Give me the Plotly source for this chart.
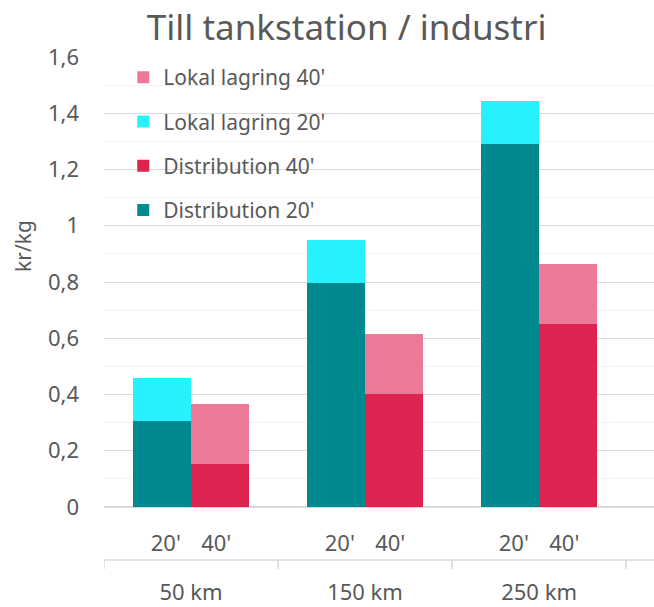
import plotly.graph_objects as go

groups = ["50 km", "150 km", "250 km"]
sizes = ["20'", "40'"]
dist_20 = [0.305, 0.796, 1.291]
lokal_20 = [0.152, 0.153, 0.153]
dist_40 = [0.153, 0.402, 0.650]
lokal_40 = [0.213, 0.213, 0.213]

c_d20 = "#008A90"
c_l20 = "#27F0FF"
c_d40 = "#DE2350"
c_l40 = "#EC7A96"

font_family = "Noto Sans, Open Sans, sans-serif"
grey = "#595959"
line_grey = "#D9D9D9"

x20 = [groups, [sizes[0]] * len(groups)]
x40 = [groups, [sizes[1]] * len(groups)]

fig = go.Figure()
w = 0.667
fig.add_trace(go.Bar(x=x20, y=dist_20, name="Distribution 20'", marker_color=c_d20,
                     width=w, offset=-0.167, legendgroup="a", legendrank=4, marker_line_width=0))
fig.add_trace(go.Bar(x=x40, y=dist_40, name="Distribution 40'", marker_color=c_d40,
                     width=w, offset=-0.5, legendgroup="b", legendrank=3, marker_line_width=0))
fig.add_trace(go.Bar(x=x20, y=lokal_20, name="Lokal lagring 20'", marker_color=c_l20,
                     width=w, offset=-0.167, legendgroup="c", legendrank=2, marker_line_width=0))
fig.add_trace(go.Bar(x=x40, y=lokal_40, name="Lokal lagring 40'", marker_color=c_l40,
                     width=w, offset=-0.5, legendgroup="d", legendrank=1, marker_line_width=0))

n_g = len(groups)
n_s = len(sizes)
n_cat = n_g * n_s
x_range = [-0.5, n_cat - 0.5 + 28 / 87.2]

# label positions derived from category indices
group_centers = [g * n_s + (n_s - 1) / 2 for g in range(n_g)]
sub_vals = []
sub_text = []
for gc in group_centers:
    sub_vals += [gc - 0.29, gc + 0.29]
    sub_text += sizes

# empty helper traces so the label axes are drawn
fig.add_trace(go.Scatter(x=[], y=[], xaxis="x2", showlegend=False, hoverinfo="skip"))
fig.add_trace(go.Scatter(x=[], y=[], xaxis="x3", showlegend=False, hoverinfo="skip"))

fig.update_layout(
    width=654, height=607,
    barmode="stack",
    separators=", ",
    paper_bgcolor="white", plot_bgcolor="white",
    margin=dict(l=104, r=0, t=57, b=100),
    font=dict(family=font_family, color=grey, size=21),
    title=dict(text="Till tankstation / industri", x=0.53, xanchor="center",
               y=0.955, yanchor="middle", font=dict(size=35, color=grey)),
    legend=dict(x=0.035, y=1.0, xanchor="left", yanchor="top",
                traceorder="grouped", tracegroupgap=14,
                font=dict(size=21, color=grey), bgcolor="rgba(0,0,0,0)",
                itemwidth=30),
    showlegend=True,
    xaxis2=dict(overlaying="x", anchor="free", position=0, side="bottom",
                range=x_range, tickmode="array", tickvals=sub_vals, ticktext=sub_text,
                showgrid=False, zeroline=False, showline=False, ticks="",
                tickfont=dict(size=22, color=grey), ticklabelstandoff=21,
                automargin=False),
    xaxis3=dict(overlaying="x", anchor="free", position=0, side="bottom",
                range=x_range, tickmode="array", tickvals=group_centers, ticktext=groups,
                showgrid=False, zeroline=False, showline=False, ticks="",
                tickfont=dict(size=22, color=grey), ticklabelstandoff=70,
                automargin=False),
    annotations=[dict(text="kr/kg", textangle=-90, xref="paper", yref="paper",
                      x=-81 / 550, y=261 / 450, xanchor="center", yanchor="middle",
                      showarrow=False, font=dict(size=21, color=grey))],
)
fig.update_yaxes(range=[0, 1.6], dtick=0.2, showgrid=True, gridcolor=line_grey,
                 gridwidth=1, zeroline=True, zerolinecolor=line_grey,
                 minor=dict(dtick=0.1, showgrid=True, gridcolor="#F2F2F2"),
                 tickfont=dict(size=22, color=grey), ticks="", showline=False,
                 ticklabelstandoff=24)
fig.layout.xaxis.update(type="multicategory", showgrid=False, showline=False,
                        range=x_range, showdividers=False, automargin=False,
                        showticklabels=False, ticks="")

# axis line between label levels and group boundary ticks
fig.add_shape(type="line", xref="paper", yref="paper", x0=0, x1=1,
              y0=-53 / 450, y1=-53 / 450, line=dict(color=line_grey, width=1.5))
for b in range(n_g + 1):
    xb = -0.5 + b * n_s
    fig.add_shape(type="line", xref="x", yref="paper", x0=xb, x1=xb,
                  y0=-53 / 450, y1=-62 / 450, line=dict(color=line_grey, width=1.5))

fig.write_html("out.html")
